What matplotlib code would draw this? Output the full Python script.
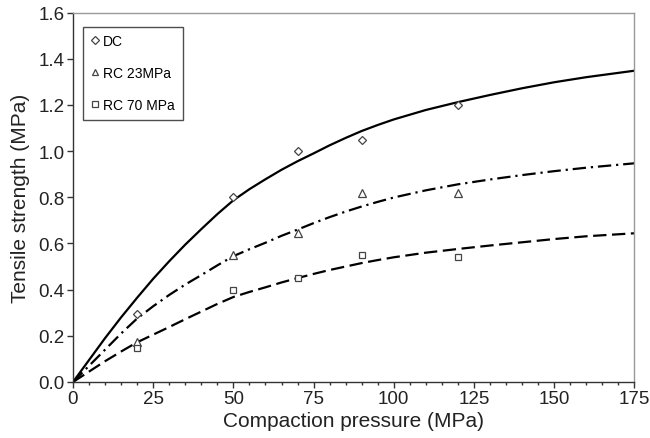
import matplotlib
matplotlib.use("Agg")
import matplotlib.pyplot as plt
from matplotlib.ticker import MultipleLocator, FormatStrFormatter

plt.rcParams['font.family'] = ['Liberation Sans', 'DejaVu Sans']

# Measured data points
pressure = [20, 50, 70, 90, 120]
dc = [0.295, 0.80, 1.00, 1.05, 1.20]
rc23 = [0.175, 0.55, 0.645, 0.82, 0.82]
rc70 = [0.147, 0.40, 0.45, 0.55, 0.54]

# Fitted curves
curve_x = [0, 5, 10, 15, 20, 25, 30, 35, 40, 45, 50, 55, 60, 65, 70, 75, 80, 85, 90,
           95, 100, 110, 120, 130, 140, 150, 160, 175]
dc_fit = [0, 0.095, 0.19, 0.28, 0.365, 0.447, 0.523, 0.595, 0.662, 0.727, 0.787, 0.835, 0.878,
          0.919, 0.956, 0.99, 1.025, 1.057, 1.087, 1.113, 1.137, 1.178, 1.212, 1.243,
          1.272, 1.298, 1.32, 1.348]
rc23_fit = [0, 0.07, 0.14, 0.21, 0.275, 0.328, 0.377, 0.422, 0.463, 0.505, 0.545, 0.575,
            0.603, 0.633, 0.66, 0.688, 0.714, 0.738, 0.76, 0.78, 0.799, 0.83, 0.856,
            0.877, 0.896, 0.913, 0.928, 0.947]
rc70_fit = [0, 0.045, 0.09, 0.132, 0.172, 0.205, 0.238, 0.272, 0.305, 0.338, 0.368, 0.39,
            0.41, 0.431, 0.45, 0.468, 0.485, 0.5, 0.515, 0.528, 0.54, 0.56, 0.576, 0.591,
            0.605, 0.619, 0.631, 0.644]

labels = ['DC', 'RC 23MPa', 'RC 70 MPa']

fig = plt.figure(figsize=(6.5, 4.39), dpi=100)
ax = fig.add_axes([0.1123, 0.1276, 0.8637, 0.8416])

lw = 1.6
ax.plot(curve_x, dc_fit, color='black', lw=lw, solid_capstyle='round')
ax.plot(curve_x, rc23_fit, color='black', lw=lw, dashes=(6, 2.2, 1, 2.2))
ax.plot(curve_x, rc70_fit, color='black', lw=lw, dashes=(6, 2.5))

mec = '#444444'
ax.plot(pressure, dc, linestyle='none', marker='D', ms=4.5, mfc='white', mec=mec, mew=0.9,
        label=labels[0])
ax.plot(pressure, rc23, linestyle='none', marker='^', ms=5.5, mfc='white', mec=mec, mew=0.9,
        label=labels[1])
ax.plot(pressure, rc70, linestyle='none', marker='s', ms=5, mfc='white', mec=mec, mew=0.9,
        label=labels[2])

ax.set_xlim(0, 175)
ax.set_ylim(0, 1.6)
ax.xaxis.set_major_locator(MultipleLocator(25))
ax.xaxis.set_minor_locator(MultipleLocator(5))
ax.yaxis.set_major_locator(MultipleLocator(0.2))
ax.yaxis.set_major_formatter(FormatStrFormatter('%.1f'))

for s in ['top', 'right']:
    ax.spines[s].set_color('#999999')
    ax.spines[s].set_linewidth(1.0)
for s in ['left', 'bottom']:
    ax.spines[s].set_color('#333333')
    ax.spines[s].set_linewidth(1.0)

ax.tick_params(axis='both', which='major', direction='out', length=4, width=1.0,
               colors='#333333', labelsize=13.5, labelcolor='#222222', pad=2)
ax.tick_params(axis='x', which='minor', direction='out', length=2.5, width=1.0, colors='#333333')

ax.set_xlabel('Compaction pressure (MPa)', fontsize=15, color='#222222', labelpad=3)
ax.set_ylabel('Tensile strength (MPa)', fontsize=15, color='#222222', labelpad=6)

leg = ax.legend(loc='upper left', bbox_to_anchor=(0.018, 0.962), frameon=True, fancybox=False,
                fontsize=10, handlelength=0.6, handletextpad=0.3, labelspacing=1.3,
                borderpad=0.55, borderaxespad=0.0, markerscale=0.85)
leg.get_frame().set_edgecolor('#222222')
leg.get_frame().set_linewidth(1.0)

fig.savefig('out.png', dpi=100)
